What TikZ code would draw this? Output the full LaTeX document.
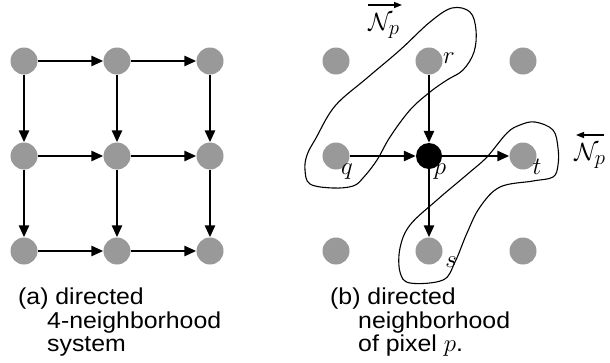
\documentclass[tikz,border=0pt]{standalone}
\usepackage{fontspec}
\setmainfont{Liberation Sans}[FakeStretch=1.08]
\usetikzlibrary{arrows.meta}
\begin{document}
\begin{tikzpicture}[x=1pt,y=-1pt,
  pix/.style={circle,fill=black!40,minimum size=27pt,inner sep=0pt},
  ctr/.style={circle,fill=black,minimum size=26pt,inner sep=0pt},
  arr/.style={line width=2.6pt,-{Triangle[length=12pt,width=10pt]}},
  vecarr/.style={line width=1.4pt,-{Triangle[length=8pt,width=6pt]}},
  loopc/.style={line width=1.1pt},
  lab/.style={inner sep=0pt,font=\fontsize{25}{25}\selectfont},
  biglab/.style={inner sep=0pt,font=\fontsize{32}{32}\selectfont},
  captxt/.style={anchor=base west,inner sep=0pt,font=\fontsize{23}{23}\selectfont}]
\useasboundingbox (0,0) rectangle (610,362);
% left grid
\foreach \i/\x in {1/24,2/117,3/210}{
  \foreach \j/\y in {1/61,2/156,3/251}{
    \node[pix] (a\i\j) at (\x,\y) {};
  }
}
\foreach \j in {1,2,3}{
  \draw[arr] (a1\j) -- (a2\j);
  \draw[arr] (a2\j) -- (a3\j);
}
\foreach \i in {1,2,3}{
  \draw[arr] (a\i1) -- (a\i2);
  \draw[arr] (a\i2) -- (a\i3);
}
% right grid
\node[pix] (b11) at (336,61) {};
\node[pix] (r) at (429,61) {};
\node[pix] (b31) at (523,61) {};
\node[pix] (q) at (336,156) {};
\node[ctr] (p) at (429,156) {};
\node[pix] (t) at (523,156) {};
\node[pix] (b13) at (336,251) {};
\node[pix] (s) at (429,251) {};
\node[pix] (b33) at (523,251) {};
\draw[arr] (r) -- (p);
\draw[arr] (q) -- (p);
\draw[arr] (p) -- (t);
\draw[arr] (p) -- (s);
% loops
\draw[loopc] plot[smooth cycle,tension=0.6] coordinates {
 (452,8) (470,12) (476,30) (474,52) (463,70) (447,80) (430,92) (410,110)
 (390,137) (377,160) (363,178) (353,186) (333,188) (310,184) (305,170)
 (307,155) (316,138) (335,106) (367,78) (400,50) (430,22)};
\draw[loopc] plot[smooth cycle,tension=0.6] coordinates {
 (535,122) (553,130) (558,148) (558,165) (553,177) (533,181) (500,187)
 (480,207) (467,233) (455,262) (443,280) (410,283) (400,272) (400,248)
 (410,225) (437,200) (457,183) (470,172) (487,157) (507,133) (520,125)};
% labels
\node[lab] (lr) at (449,58) {$r$};
\node[lab] (lq) at (347,172) {$q$};
\node[lab] (lp) at (440,172) {$p$};
\node[lab] (lt) at (537,167) {$t$};
\node[lab] (ls) at (451,262) {$s$};
\node[biglab] (n1) at (384,26) {$\mathcal{N}_{p}$};
\coordinate (v1a) at (368,5);
\coordinate (v1b) at (402,5);
\draw[vecarr] (v1a) -- (v1b);
\node[biglab] (n2) at (590,156) {$\mathcal{N}_{p}$};
\coordinate (v2a) at (604,135);
\coordinate (v2b) at (576,135);
\draw[vecarr] (v2a) -- (v2b);
% captions
\node[captxt] (ca) at (18,304) {(a) directed};
\node[captxt] (ca2) at (47,328) {4-neighborhood};
\node[captxt] (ca3) at (47,351) {system};
\node[captxt] (cb) at (330,304) {(b) directed};
\node[captxt] (cb2) at (358,328) {neighborhood};
\node[captxt] (cb3) at (358,351) {of pixel $p$.};
\end{tikzpicture}
\end{document}
